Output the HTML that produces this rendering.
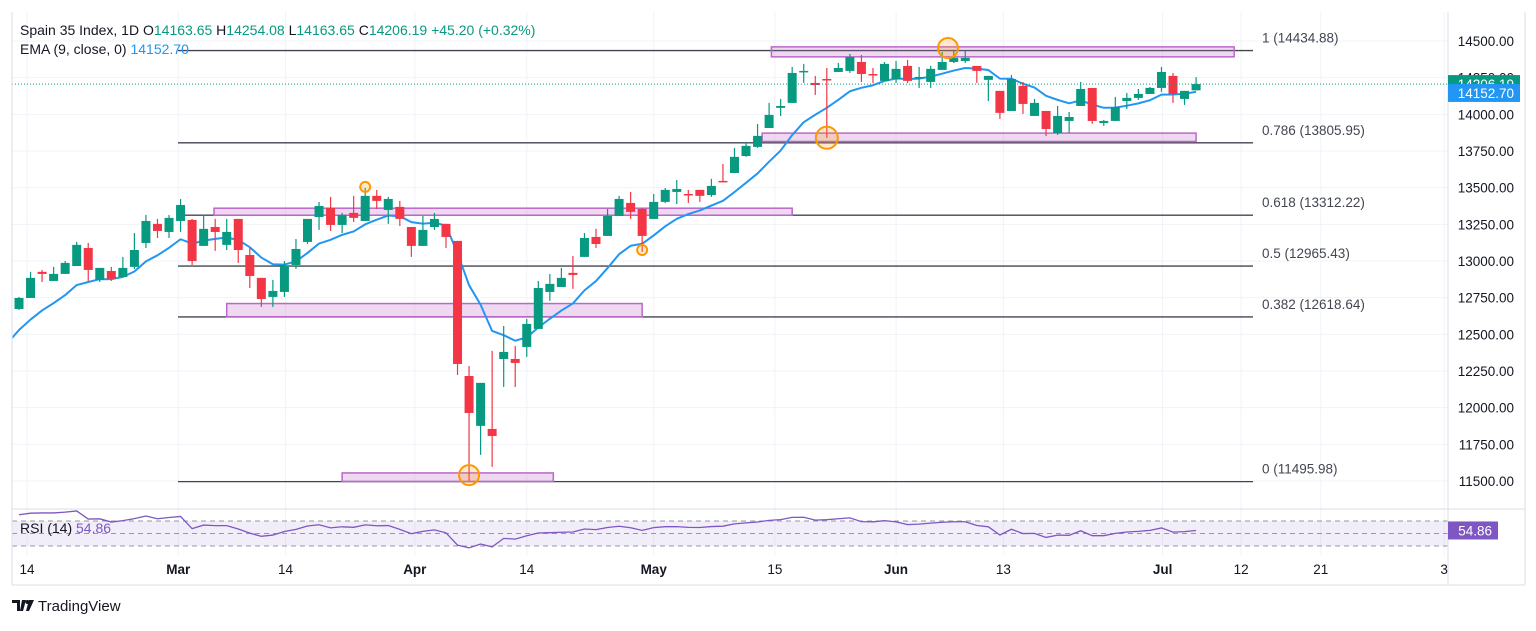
<!DOCTYPE html>
<html><head><meta charset="utf-8">
<style>
html,body{margin:0;padding:0;background:#fff;}
body{width:1536px;height:626px;overflow:hidden;font-family:"Liberation Sans",sans-serif;}
svg text{font-family:"Liberation Sans",sans-serif;}
</style></head>
<body>
<svg id="chart" width="1536" height="626" viewBox="0 0 1536 626" xmlns="http://www.w3.org/2000/svg">
<g id="grid"></g>
<g id="fib"></g>
<g id="boxes"></g>
<g id="ema"></g>
<g id="candles"></g>
<g id="marks"></g>
<g id="rsi"></g>
<g id="axes"></g>
<text x="20" y="35" font-size="14" fill="#131722">Spain 35 Index, 1D <tspan fill="#131722">O</tspan><tspan fill="#089981">14163.65</tspan> <tspan fill="#131722">H</tspan><tspan fill="#089981">14254.08</tspan> <tspan fill="#131722">L</tspan><tspan fill="#089981">14163.65</tspan> <tspan fill="#131722">C</tspan><tspan fill="#089981">14206.19 +45.20 (+0.32%)</tspan></text>
<text x="20" y="54" font-size="14" fill="#131722">EMA (9, close, 0) <tspan fill="#2196f3">14152.70</tspan></text>
<text x="20" y="533" font-size="14" fill="#131722">RSI (14) <tspan fill="#7e57c2">54.86</tspan></text>
<g>
<path d="M12 600h8v11h-3v-8h-5z M22 600h4l-3 11h-3z" fill="#131722"/>
<circle cx="27.5" cy="602" r="2" fill="#131722"/>
<path d="M29 600h5l-5 11h-3z" fill="#131722"/>
<text x="38" y="611" font-size="15" fill="#131722">TradingView</text>
</g>
</svg>
<script>
const opens=[12673,12748,12926,12864,12912,12966,13089,12871,12932,12891,12960,13123,13253,13198,13273,13280,13103,13232,13110,13287,13041,12885,12755,12789,12973,13130,13300,13362,13246,13328,13273,13444,13348,13369,13232,13103,13232,13253,13137,12216,11876,11855,12332,12332,12414,12537,12789,12823,12919,13028,13164,13171,13307,13396,13355,13287,13403,13471,13457,13485,13450,13546,13600,13716,13778,13907,14044,14078,14289,14214,14241,14289,14296,14357,14275,14228,14241,14330,14248,14221,14303,14357,14364,14330,14235,14160,14023,14194,13989,14023,13873,13955,14057,14180,13941,13955,14091,14112,14139,14180,14262,14105,14163.65];
const highs=[12755,12926,12939,12960,13000,13130,13123,12953,12960,13028,13191,13314,13287,13314,13423,13287,13314,13287,13287,13287,13089,12885,12871,13000,13150,13287,13403,13437,13328,13444,13498,13485,13437,13410,13232,13307,13328,13253,13137,12284,12169,12387,12557,12421,12605,12864,12912,12953,13034,13191,13219,13355,13444,13471,13362,13457,13498,13553,13485,13485,13560,13662,13771,13812,13934,14078,14105,14323,14344,14262,14316,14350,14412,14405,14316,14357,14364,14371,14323,14330,14425,14432,14432,14330,14262,14160,14269,14221,14105,14023,14057,14016,14221,14180,13962,14119,14146,14173,14187,14323,14282,14160,14254.08];
const lows=[12666,12748,12857,12864,12912,12966,12864,12857,12864,12891,12946,13089,13157,13157,13198,12973,13103,13069,13075,12987,12816,12687,12687,12755,12946,13116,13212,13205,13191,13266,13273,13355,13253,13239,13028,13103,13212,13089,12223,11500,11678,11596,12141,12141,12346,12537,12728,12823,12810,13028,13089,13171,13307,13287,13062,13287,13396,13389,13396,13403,13437,13539,13600,13710,13771,13907,13989,14078,14214,14132,13839,14289,14282,14221,14214,14228,14214,14214,14180,14180,14303,14350,14350,14214,14091,13969,14023,14003,13989,13853,13860,13873,14057,13935,13921,13955,14037,14098,14139,14153,14078,14064,14163.65];
const closes=[12748,12885,12912,12912,12987,13110,12939,12953,12878,12953,13075,13273,13205,13294,13382,13000,13219,13198,13198,13075,12898,12741,12796,12966,13082,13287,13375,13246,13314,13294,13444,13410,13423,13287,13103,13212,13287,13164,12298,11964,12169,11807,12380,12305,12571,12816,12844,12885,12905,13157,13116,13307,13423,13335,13171,13403,13485,13491,13450,13444,13512,13539,13710,13785,13853,13996,14057,14282,14296,14200,14235,14316,14391,14275,14269,14344,14310,14228,14255,14310,14357,14385,14385,14296,14262,14010,14241,14071,14078,13900,13989,13982,14173,13955,13955,14050,14112,14139,14180,14289,14139,14160,14206.19];
const priceTicks=[14500,14250,14000,13750,13500,13250,13000,12750,12500,12250,12000,11750,11500];
const dateLabels=["14","Mar","14","Apr","14","May","15","Jun","13","Jul","12","21","3"];
const dateIdx=[0.7,13.8,23.1,34.3,44,55,65.5,76,85.3,99.1,105.9,112.8,123.5];
const fibLevels=[1,0.786,0.618,0.5,0.382,0];
const fibPrices=[14434.88,13805.95,13312.22,12965.43,12618.64,11495.98];
const emaSeed=12475;
const lastEma=14152.70;
const lastRsi=54.86;
// zones: [startIdx,endIdx,lowPrice,highPrice]
const zoneStart=[65.2,64.4,16.9,18,28];
const zoneEnd=[105.3,102.0,67.0,54.0,46.3];
const zoneLow=[14392,13815,13312,12620,11497];
const zoneHigh=[14460,13872,13360,12710,11555];
const markIdx=[80.5,70,30,54,39];
const markPrice=[14452,13840,13505,13075,11540];
const markR=[10,11,5,5,10];

const NS="http://www.w3.org/2000/svg";
const X0=19,STEP=11.54,PL=12,PR=1448,TOP=12,MB=503;
const xS=i=>X0+i*STEP;
const yS=p=>481-(p-11500)*0.146667;
const rY=v=>533.5-(v-50)*0.625;
function mk(t,a,parent){const e=document.createElementNS(NS,t);for(const k in a)e.setAttribute(k,a[k]);parent.appendChild(e);return e;}
const $=id=>document.getElementById(id);

priceTicks.forEach(p=>{const l=mk('line',{x1:PL,x2:PR,y1:yS(p),y2:yS(p),stroke:'#f0f3fa','stroke-width':1},$('grid'));

});
dateIdx.forEach(d=>{const l=mk('line',{x1:xS(d),x2:xS(d),y1:TOP,y2:555,stroke:'#f0f3fa','stroke-width':1},$('grid'));

});

fibPrices.forEach((p,k)=>{const y=yS(p);
const l=mk('line',{x1:178,x2:1253,y1:y,y2:y,stroke:'#434651','stroke-width':1.3},$('fib'));


const t=mk('text',{x:1262,y:y-8,'font-size':13.5,fill:'#434651'},$('fib'));
t.textContent=fibLevels[k]+' ('+p.toFixed(2)+')';

});

zoneStart.forEach((s,k)=>{const x1=xS(s),x2=xS(zoneEnd[k]),y1=yS(zoneHigh[k]),y2=yS(zoneLow[k]);
const r=mk('rect',{x:x1,y:y1,width:x2-x1,height:y2-y1,fill:'rgba(186,104,200,0.25)',stroke:'#ba68c8','stroke-width':1.5},$('boxes'));

});

let e=emaSeed;const emaPts=[[PL,yS(e)]];const a=2/10;
closes.forEach((c,i)=>{e=a*c+(1-a)*e;emaPts.push([xS(i),yS(e)]);});
const ep=mk('polyline',{points:emaPts.map(p=>p.join(',')).join(' '),fill:'none',stroke:'#2196f3','stroke-width':2,'stroke-linejoin':'round'},$('ema'));



closes.forEach((c,i)=>{const o=opens[i],up=c>=o,col=up?'#089981':'#f23645';const x=xS(i);
const g=mk('g',{},$('candles'));


mk('line',{x1:x,x2:x,y1:yS(highs[i]),y2:yS(lows[i]),stroke:col,'stroke-width':1.2},g);
const yt=yS(Math.max(o,c)),yb=yS(Math.min(o,c));
mk('rect',{x:x-4.5,y:yt,width:9,height:Math.max(1.5,yb-yt),fill:col},g);});

markIdx.forEach((m,k)=>{const c=mk('circle',{cx:xS(m),cy:yS(markPrice[k]),r:markR[k],fill:'rgba(255,152,0,0.2)',stroke:'#ff9800','stroke-width':2},$('marks'));

});

const lp=mk('line',{x1:PL,x2:PR,y1:yS(closes[closes.length-1]),y2:yS(closes[closes.length-1]),stroke:'#089981','stroke-width':1,'stroke-dasharray':'1 2'},$('axes'));



const band=mk('rect',{x:PL,y:rY(70),width:PR-PL,height:rY(30)-rY(70),fill:'rgba(126,87,194,0.1)'},$('rsi'));


[70,50,30].forEach(v=>{const l=mk('line',{x1:PL,x2:PR,y1:rY(v),y2:rY(v),stroke:'#9598a1','stroke-width':1,'stroke-dasharray':'5 4'},$('rsi'));

});
let ag=60,al=15;const rp=[];
closes.forEach((c,i)=>{if(i>0){const d=c-closes[i-1];ag=(ag*13+Math.max(d,0))/14;al=(al*13+Math.max(-d,0))/14;}
const rs=100-100/(1+ag/al);rp.push([xS(i),rY(rs)]);});
const rl=mk('polyline',{points:rp.map(p=>p.join(',')).join(' '),fill:'none',stroke:'#7e57c2','stroke-width':1.3},$('rsi'));



const ax=$('axes');
[[PL,TOP,PL,585],[PL,585,1525,585],[1525,TOP,1525,585],[PL,509,1525,509],[PR,TOP,PR,585]].forEach(s=>{
const l=mk('line',{x1:s[0],y1:s[1],x2:s[2],y2:s[3],stroke:'#e0e3eb','stroke-width':1.2},ax);

});
priceTicks.forEach(p=>{const t=mk('text',{x:1514,y:yS(p)+5,'font-size':13.5,fill:'#131722','text-anchor':'end'},ax);
t.textContent=p.toFixed(2);

});
dateLabels.forEach((d,k)=>{const t=mk('text',{x:xS(dateIdx[k]),y:574,'font-size':13.5,fill:'#131722','text-anchor':'middle','font-weight':(d.length===3?'bold':'normal')},ax);
t.textContent=d;

});
function tag(val,y,col,name){const g=mk('g',{},ax);


mk('rect',{x:1448,y:y-9,width:72,height:18,fill:col},g);
const t=mk('text',{x:1514,y:y+5,'font-size':13.5,fill:'#fff','text-anchor':'end'},g);t.textContent=val;}
tag(closes[closes.length-1].toFixed(2),yS(closes[closes.length-1]),'#089981','last-price-tag');
tag(lastEma.toFixed(2),yS(lastEma)+1,'#2196f3','ema-price-tag');
const rg=mk('g',{},ax);


mk('rect',{x:1448,y:rY(lastRsi)-9,width:50,height:18,fill:'#7e57c2'},rg);
const rt=mk('text',{x:1492,y:rY(lastRsi)+5,'font-size':13.5,fill:'#fff','text-anchor':'end'},rg);rt.textContent=lastRsi.toFixed(2);
</script>
</body></html>
